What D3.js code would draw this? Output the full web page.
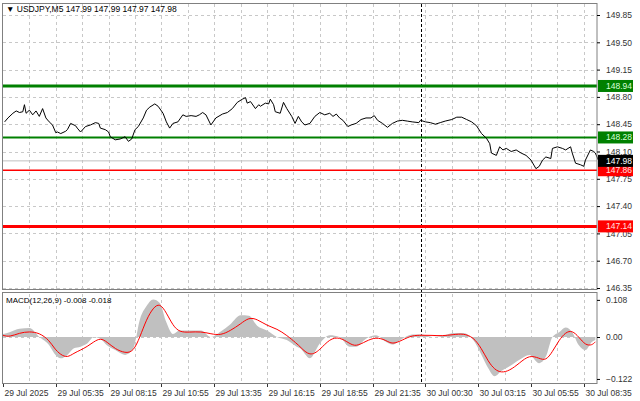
<!DOCTYPE html>
<html><head><meta charset="utf-8">
<script src="https://cdn.jsdelivr.net/npm/d3@7"></script>
<style>html,body{margin:0;background:#fff;overflow:hidden}svg{display:block;font-family:"Liberation Sans",Arial,sans-serif}</style>
</head><body><div id="chart"></div>
<script>
// price samples (bar index, close)
const priceBars = [1,3,6,8,10,12,13,14,16,18,20,22,24,26,28,30,32,33,35,38,39,41,44,45,47,50,53,56,58,59,62,64,65,68,71,74,76,78,80,82,85,87,89,92,94,97,99,101,103,106,109,111,114,117,119,
  121,123,126,129,133,136,139,142,145,147,148,150,153,155,156,159,161,162,164,165,168,170,172,175,177,179,181,183,186,189,192,195,198,200,202,204,206,209,211,214,217,220,223,225,227,230,233,236,239,
  242,245,248,252,253,256,259,262,265,268,272,275,278,281,284,287,290,293,295,296,299,301,303,305,308,311,314,317,320,323,325,327,329,332,333,336,339,341,344,345,347,350,352,353,356,358,359,361];
const priceValues = [148.48,148.53,148.59,148.62,148.60,148.61,148.70,148.59,148.63,148.57,148.62,148.55,148.65,148.53,148.48,148.44,148.34,148.35,148.33,148.36,148.38,148.46,148.43,148.40,148.35,148.42,148.44,148.47,148.46,148.40,148.38,148.35,148.29,148.25,148.26,148.29,148.23,148.26,148.38,148.42,148.53,148.63,148.67,148.71,148.68,148.59,148.48,148.40,148.46,148.48,148.57,148.55,148.56,148.55,148.57,
  148.60,148.57,148.44,148.53,148.58,148.60,148.65,148.73,148.77,148.79,148.72,148.74,148.65,148.70,148.68,148.72,148.71,148.77,148.70,148.61,148.59,148.73,148.65,148.55,148.46,148.55,148.48,148.44,148.46,148.55,148.60,148.57,148.59,148.55,148.58,148.53,148.50,148.42,148.44,148.46,148.51,148.53,148.53,148.56,148.50,148.46,148.41,148.46,148.49,
  148.50,148.49,148.48,148.47,148.50,148.48,148.47,148.45,148.47,148.49,148.51,148.54,148.54,148.51,148.48,148.43,148.33,148.27,148.20,148.08,148.05,148.16,148.12,148.14,148.10,148.12,148.08,148.05,147.99,147.88,147.91,147.99,148.03,148.01,148.14,148.16,148.14,148.12,148.16,148.08,147.95,147.93,147.91,147.99,148.12,148.10,148.08,147.98];

// MACD samples
const macdBars = [0,4,10,16,22,28,31,35,39,43,47,51,55,59,63,68,74,79,83,87,91,95,99,103,107,113,120,126,132,138,144,149,154,160,166,172,178,
  180,186,192,198,204,210,214,220,226,232,236,242,248,254,260,266,273,279,285,290,294,298,302,307,313,319,325,329,333,337,341,345,349,353,357,359];
const macdHist = [0.009,0.014,0.024,0.026,0.0,-0.024,-0.047,-0.062,-0.052,-0.033,-0.028,-0.019,0,-0.005,-0.024,-0.038,-0.052,-0.033,0.052,0.090,0.109,0.099,0.043,0.009,0.019,0.019,0.019,0,0.016,0.038,0.063,0.062,0.033,0.019,0,-0.009,-0.028,
  -0.033,-0.062,-0.019,0.005,0,-0.028,-0.028,-0.005,0.005,-0.014,-0.022,-0.005,0.007,0.007,0,0.003,0.012,0.012,-0.009,-0.052,-0.090,-0.114,-0.099,-0.085,-0.066,-0.052,-0.076,-0.057,0,0.014,0.028,0.014,-0.024,-0.038,-0.014,-0.009];
const macdSignal = [0.005,0,0.012,0.016,0.012,-0.009,-0.033,-0.052,-0.060,-0.047,-0.038,-0.028,-0.014,-0.003,-0.014,-0.035,-0.047,-0.043,0,0.052,0.085,0.099,0.071,0.033,0.014,0.014,0.016,0.009,0.005,0.019,0.038,0.057,0.052,0.033,0.024,0.005,-0.019,
  -0.028,-0.057,-0.038,-0.005,0,-0.019,-0.028,-0.012,0,-0.009,-0.022,-0.009,0.005,0.005,0.005,0.003,0.007,0.010,0,-0.033,-0.071,-0.095,-0.104,-0.098,-0.076,-0.052,-0.062,-0.069,-0.043,-0.009,0.014,0.019,0,-0.024,-0.024,-0.014];

const priceTicks = [149.85,149.50,149.15,148.80,148.45,148.10,147.75,147.40,147.05,146.70,146.35];
const levels = [
  {v:148.94, color:"#008000", w:3},
  {v:148.28, color:"#008000", w:2},
  {v:147.86, color:"#ff0000", w:1.5},
  {v:147.14, color:"#ff0000", w:3}
];
const lastPrice = 147.98;
const timeLabels = ["29 Jul 2025","29 Jul 05:35","29 Jul 08:15","29 Jul 10:55","29 Jul 13:35","29 Jul 16:15",
  "29 Jul 18:55","29 Jul 21:35","30 Jul 00:30","30 Jul 03:15","30 Jul 05:55","30 Jul 08:35"];
const dayBreakBar = 253.5;

const W = 640, H = 401, left = 3, right = 597;
const svg = d3.select("#chart").append("svg").attr("width", W).attr("height", H);

const x = d3.scaleLinear().domain([0, 360]).range([left, right]);
const y = d3.scaleLinear().domain([146.35, 149.85]).range([288, 15]);
const ym = d3.scaleLinear().domain([-0.128, 0.128]).range([381, 293]);

const grid = svg.append("g").attr("stroke", "#c8c8c8").attr("stroke-dasharray", "3,3").attr("stroke-width", 1);
// vertical grid every 16 bars
d3.range(16, 360, 16).forEach(b => {
  [[4, 289], [294, 383]].forEach(([a, c]) =>
    grid.append("line").attr("x1", Math.round(x(b)) + 0.5).attr("x2", Math.round(x(b)) + 0.5).attr("y1", a).attr("y2", c));
});
priceTicks.forEach(t => grid.append("line").attr("x1", left).attr("x2", right)
  .attr("y1", Math.round(y(t)) + 0.5).attr("y2", Math.round(y(t)) + 0.5));
grid.append("line").attr("x1", left).attr("x2", right).attr("y1", Math.round(ym(0)) + 0.5).attr("y2", Math.round(ym(0)) + 0.5);

// day break
svg.append("line").attr("x1", Math.round(x(dayBreakBar)) + 0.5).attr("x2", Math.round(x(dayBreakBar)) + 0.5)
  .attr("y1", 4).attr("y2", 383).attr("stroke", "#000").attr("stroke-dasharray", "3,2");

// current price line
svg.append("line").attr("x1", left).attr("x2", right).attr("y1", y(lastPrice)).attr("y2", y(lastPrice))
  .attr("stroke", "#c0c0c0");

levels.forEach(l => svg.append("line").attr("x1", left).attr("x2", right).attr("y1", y(l.v)).attr("y2", y(l.v))
  .attr("stroke", l.color).attr("stroke-width", l.w));

const pts = priceBars.map((b, i) => [b, priceValues[i]]);
svg.append("path").datum(pts).attr("fill", "none").attr("stroke", "#000").attr("stroke-width", 1)
  .attr("d", d3.line().x(d => x(d[0])).y(d => y(d[1])));

// MACD
const mpts = macdBars.map((b, i) => ({b, h: macdHist[i], s: macdSignal[i]}));
svg.append("path").datum(mpts).attr("fill", "#c0c0c0")
  .attr("d", d3.area().curve(d3.curveMonotoneX).x(d => x(d.b)).y0(ym(0)).y1(d => ym(d.h)));
svg.append("path").datum(mpts).attr("fill", "none").attr("stroke", "#ff0000").attr("stroke-width", 1)
  .attr("d", d3.line().curve(d3.curveBasis).x(d => x(d.b)).y(d => ym(d.s)));

// frames
svg.append("rect").attr("x", 2.5).attr("y", 3.5).attr("width", right - 2.5).attr("height", 286)
  .attr("fill", "none").attr("stroke", "#808080");
svg.append("rect").attr("x", 2.5).attr("y", 292.5).attr("width", right - 2.5).attr("height", 91)
  .attr("fill", "none").attr("stroke", "#808080");

// right axis
const ax = svg.append("g").attr("transform", `translate(${right},0)`)
  .call(d3.axisRight(y).tickValues(priceTicks).tickFormat(d3.format(".2f")).tickSize(3));
ax.select(".domain").remove();
ax.selectAll("text").attr("font-size", 8.5).attr("fill", "#333").attr("x", 9);

const axm = svg.append("g").attr("transform", `translate(${right},0)`)
  .call(d3.axisRight(ym).tickValues([0.108, 0, -0.122]).tickFormat(d => d === 0 ? "0.00" : d3.format(".3f")(d)).tickSize(3));
axm.select(".domain").remove();
axm.selectAll("text").attr("font-size", 8.5).attr("fill", "#333").attr("x", 9);

// price labels
const tags = levels.map(l => ({v: l.v, bg: l.color, fg: l.color === "#008000" ? "#d8ffd8" : "#ffe0e0"}))
  .concat([{v: lastPrice, bg: "#000", fg: "#fff"}]);
tags.forEach(t => {
  svg.append("rect").attr("x", right + 1).attr("y", y(t.v) - 6).attr("width", 35).attr("height", 12).attr("fill", t.bg);
  svg.append("text").attr("x", right + 9).attr("y", y(t.v) + 3).attr("font-size", 8.5).attr("fill", t.fg)
    .text(d3.format(".2f")(t.v));
});

// time axis
const tx = svg.append("g");
timeLabels.forEach((t, i) => {
  const px = Math.round(x(i * 32)) + 0.5;
  tx.append("line").attr("x1", px).attr("x2", px).attr("y1", 384).attr("y2", 387).attr("stroke", "#333");
  tx.append("text").attr("x", px + 1).attr("y", 396).attr("font-size", 8.5).attr("fill", "#333").text(t);
});

svg.append("text").attr("x", 6).attr("y", 12).attr("font-size", 8.5).attr("fill", "#000")
  .text("▼ USDJPY,M5  147.99 147.99 147.97 147.98");
svg.append("text").attr("x", 6).attr("y", 303).attr("font-size", 8).attr("fill", "#000")
  .text("MACD(12,26,9) -0.008 -0.018");
</script></body></html>
